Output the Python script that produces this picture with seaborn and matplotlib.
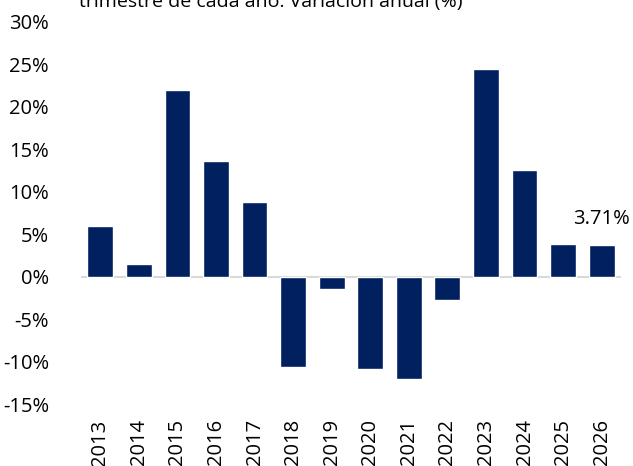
import pandas as pd
import matplotlib
matplotlib.use("Agg")
import matplotlib.pyplot as plt
import seaborn as sns
from matplotlib.ticker import FuncFormatter

years = ["2013", "2014", "2015", "2016", "2017", "2018", "2019",
         "2020", "2021", "2022", "2023", "2024", "2025", "2026"]
growth = [5.9, 1.5, 21.9, 13.6, 8.8, -10.7, -1.5,
          -10.9, -12.0, -2.8, 24.4, 12.5, 3.8, 3.71]
title_line = "trimestre de cada año. Variación anual (%)"
last_label = "3.71%"

sns.set_theme(style="white")
plt.rcParams["font.family"] = ["Open Sans", "DejaVu Sans"]

df = pd.DataFrame({"year": years, "growth": growth})

fig = plt.figure(figsize=(6.33, 4.66), dpi=100)
ax = fig.add_axes([0.128, 0.133, 0.853, 0.8206])

sns.barplot(data=df, x="year", y="growth", color="#002060",
            saturation=1, width=0.67, ax=ax)

ax.axhline(0, color="#d9d9d9", linewidth=1.5, zorder=0)
ax.set_xlim(-0.5, len(years) - 0.5)
ax.set_ylim(-15, 30)
ax.set_yticks(range(-15, 31, 5))
ax.yaxis.set_major_formatter(FuncFormatter(lambda v, p: f"{v:.0f}%"))

ax.set_xlabel("")
ax.set_ylabel("")
sns.despine(ax=ax, left=True, bottom=True)
ax.tick_params(axis="y", length=0, pad=23, labelsize=14.5, labelcolor="black")
ax.tick_params(axis="x", length=0, pad=11, labelsize=14.5, labelcolor="black",
               rotation=90)

ax.annotate(last_label, xy=(len(years) - 1, growth[-1]),
            xytext=(0, 19), textcoords="offset points",
            ha="center", va="center", fontsize=14.5, color="black")

# only the last line of the title shows, the rest is cut off as in the source
fig.text(0.428, 1 - 7 / 466, title_line, ha="center", va="baseline",
         fontsize=14, color="black")

fig.savefig("out.png", dpi=100)
